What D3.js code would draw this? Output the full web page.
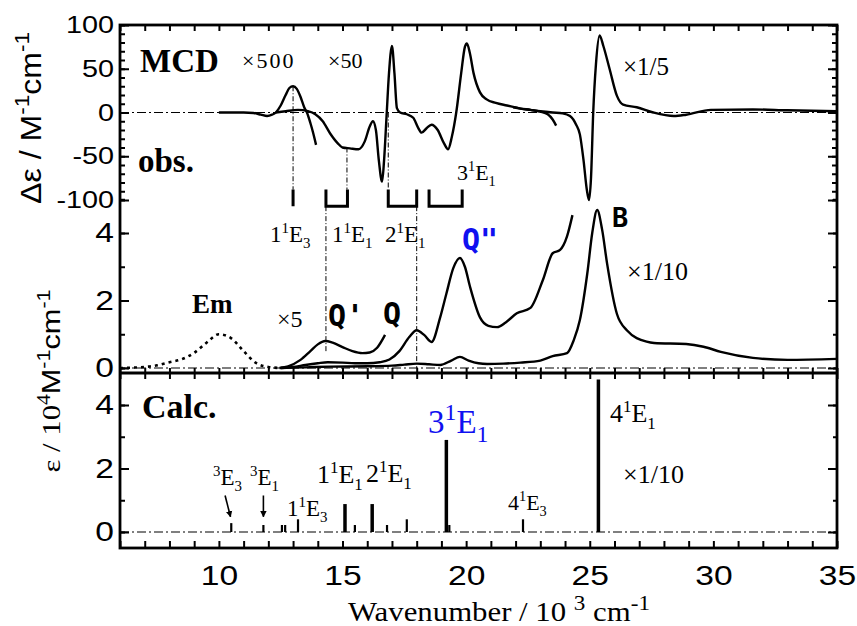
<!DOCTYPE html>
<html>
<head>
<meta charset="utf-8">
<script src="https://cdn.jsdelivr.net/npm/d3@7"></script>
<style>
  body { margin: 0; background: #fff; }
</style>
</head>
<body>
<div id="chart"></div>
<script>
// ---- data (wavenumber in 10^3 cm-1) ----
const xMinorTicks = d3.range(6, 36);
const xLabelTicks = [10, 15, 20, 25, 30, 35];
const mcdMajorTicks = [-100, -50, 0, 50, 100];
const mcdMinorTicks = d3.range(-100, 101, 10);
const epsMajorTicks = [0, 2, 4];
const epsMinorTicks = [0, 1, 2, 3, 4, 5];
const calcMinorTicks = [0, 1, 2, 3, 4];

// MCD, delta-eps / M-1 cm-1 (as plotted, with the x500 / x50 / x1/5 factors applied)
const mcdX500 = [[10, 0], [10.5, 0], [11, 0], [11.4, -0.5], [11.7, -2.5], [11.95, -4], [12.15, -2.5],
  [12.3, 0], [12.5, 8], [12.7, 20], [12.85, 28], [13, 30], [13.15, 27], [13.3, 18], [13.45, 6],
  [13.56, 0], [13.7, -12], [13.8, -22], [13.93, -37]];
const mcdX50 = [[12.3, 0], [12.7, 1.5], [13.2, 3], [13.6, 1.5], [13.9, -2], [14.2, -10], [14.5, -24],
  [14.8, -35], [15.0, -40], [15.3, -41], [15.65, -42], [15.9, -33], [16.1, -16], [16.23, -10],
  [16.35, -20], [16.47, -55], [16.6, -79], [16.68, -55], [16.78, -5], [16.88, 45], [17.0, 76],
  [17.1, 45], [17.2, 5], [17.33, 0], [17.6, -2], [17.86, -6], [18.05, -17], [18.2, -23], [18.4, -18],
  [18.6, -14], [18.85, -20], [19.1, -35], [19.27, -42], [19.42, -28], [19.6, 0], [19.8, 45],
  [19.95, 75], [20.03, 79], [20.15, 68], [20.3, 45], [20.56, 23], [20.83, 15], [21.2, 11],
  [21.65, 8], [22.2, 4.5], [22.6, 3], [23.0, 1], [23.3, -2], [23.5, -8], [23.64, -15]];
const mcdX5th = [[21.9, 6], [22.2, 4.5], [22.6, 3], [23.0, 1.5], [23.5, 0], [23.9, -1], [24.2, -4],
  [24.45, -14], [24.6, -25], [24.75, -55], [24.88, -88], [24.97, -100], [25.05, -75], [25.14, 0],
  [25.25, 55], [25.4, 88], [25.55, 76], [25.8, 50], [26.1, 19], [26.35, 9], [26.9, 6], [27.57, 0],
  [28.4, -4], [28.9, -2.5], [29.9, 3], [31.6, 3.5], [33, 2.5], [35, 1.5]];

// absorption / emission, eps / 10^4 M-1 cm-1
const emission = [[6, 0], [6.5, 0.01], [7, 0.03], [7.5, 0.08], [8, 0.17], [8.5, 0.26], [9, 0.45],
  [9.5, 0.75], [10, 1.0], [10.5, 0.88], [11, 0.5], [11.5, 0.15], [12, 0.03], [12.5, 0]];
const absX5 = [[12.45, 0], [12.8, 0.05], [13.3, 0.24], [13.7, 0.5], [14.0, 0.7], [14.3, 0.8],
  [14.6, 0.75], [15.0, 0.62], [15.4, 0.5], [15.8, 0.44], [16.1, 0.46], [16.4, 0.6], [16.72, 0.98]];
const absX1 = [[12.5, 0], [13.0, 0.03], [13.5, 0.09], [14.0, 0.14], [14.4, 0.17], [15.0, 0.16],
  [15.5, 0.14], [16.0, 0.14], [16.5, 0.17], [16.9, 0.25], [17.3, 0.5], [17.7, 0.92], [18.0, 1.12],
  [18.3, 0.98], [18.6, 0.77], [18.95, 1.5], [19.2, 2.2], [19.48, 2.96], [19.75, 3.26], [19.95, 3.0],
  [20.16, 2.4], [20.56, 1.5], [20.9, 1.25], [21.25, 1.21], [21.6, 1.35], [22.05, 1.62], [22.6, 1.78],
  [23.1, 2.6], [23.5, 3.4], [23.8, 3.5], [24.08, 3.9], [24.3, 4.53]];
const absX10th = [[12.5, 0], [13.5, 0.02], [14.5, 0.04], [16, 0.05], [17, 0.07], [17.5, 0.1],
  [18.0, 0.13], [18.5, 0.11], [18.95, 0.09], [19.4, 0.22], [19.75, 0.33], [20.1, 0.22], [20.5, 0.14],
  [20.85, 0.12], [21.5, 0.13], [22.2, 0.16], [23.0, 0.22], [23.5, 0.35], [24.08, 0.44], [24.35, 0.82],
  [24.6, 1.42], [24.9, 2.8], [25.1, 4.0], [25.3, 4.68], [25.5, 4.1], [25.7, 3.1], [26.1, 1.6],
  [26.5, 1.12], [27.3, 0.78], [27.6, 0.74], [28.9, 0.71], [29.6, 0.63], [30.3, 0.48], [31.6, 0.3],
  [33.0, 0.24], [35.0, 0.27]];

// calculated sticks
const calcPos = [10.5, 11.8, 12.55, 12.68, 13.2, 15.1, 15.5, 16.2, 16.8, 17.6, 19.2, 19.32, 22.3, 25.35];
const calcInt = [0.28, 0.22, 0.22, 0.22, 0.4, 0.88, 0.22, 0.88, 0.22, 0.4, 2.9, 0.22, 0.4, 4.8];

// assignment brackets (start, end) and guide lines
const brackets = [[13.0, 13.0], [14.33, 15.2], [16.85, 18.0], [18.5, 19.84]];
const guidesMcd = [[13.0, 30], [15.18, -40], [16.85, 0]];   // from MCD value down to bracket
const guidesAbs = [[14.33, 0.45], [18.0, 0]];              // from bracket down to absorption value

// ---- layout ----
const width = 857, height = 626;
const frameLeft = 120, frameRight = 837, frameTop = 25, frameMid = 373, frameBottom = 548;
const sans = "'Liberation Sans', Arial, Helvetica, sans-serif";
const serif = "'Liberation Serif', 'Times New Roman', serif";
const mono = "'DejaVu Sans Mono', monospace";
const blue = "#1010f0";

const svg = d3.select("#chart").append("svg")
  .attr("width", width)
  .attr("height", height);

const x = d3.scaleLinear().domain([6, 35]).range([frameLeft, frameRight]);
const yMcd = d3.scaleLinear().domain([-100, 100]).range([200, frameTop]);
const yAbs = d3.scaleLinear().domain([0, 4]).range([368, 233]);
const yCalc = d3.scaleLinear().domain([0, 4]).range([532, 405]);

// zero lines (dash-dot)
[yMcd(0), yAbs(0), yCalc(0)].forEach(y => {
  svg.append("line")
    .attr("x1", frameLeft).attr("x2", frameRight).attr("y1", y).attr("y2", y)
    .attr("stroke", "#000").attr("stroke-width", 1.2)
    .attr("stroke-dasharray", "9,3,2,3");
});

// guide lines
const guideStyle = sel => sel.attr("stroke", "#000").attr("stroke-width", 1)
  .attr("stroke-dasharray", "5,2,1,2");
guidesMcd.forEach(([w, v]) => {
  svg.append("line").attr("x1", x(w)).attr("x2", x(w))
    .attr("y1", yMcd(v)).attr("y2", yMcd(-88)).call(guideStyle);
});
guidesAbs.forEach(([w, v]) => {
  svg.append("line").attr("x1", x(w)).attr("x2", x(w))
    .attr("y1", yMcd(-107)).attr("y2", yAbs(v)).call(guideStyle);
});

// brackets
svg.selectAll("path.bracket")
  .data(brackets)
  .enter().append("path")
  .attr("class", "bracket")
  .attr("d", d => `M${x(d[0])},${yMcd(-88)}V${yMcd(-107)}H${x(d[1])}V${yMcd(-88)}`)
  .attr("fill", "none").attr("stroke", "#000").attr("stroke-width", 3);

// curves
function curve(data, yScale, dash) {
  const line = d3.line()
    .x(d => x(d[0]))
    .y(d => yScale(d[1]))
    .curve(d3.curveMonotoneX);
  svg.append("path")
    .datum(data)
    .attr("d", line)
    .attr("fill", "none")
    .attr("stroke", "#000")
    .attr("stroke-width", dash ? 2.6 : 2.4)
    .attr("stroke-linejoin", "round")
    .attr("stroke-dasharray", dash || null);
}
curve(mcdX500, yMcd);
curve(mcdX50, yMcd);
curve(mcdX5th, yMcd);
curve(emission, yAbs, "3,4");
curve(absX5, yAbs);
curve(absX1, yAbs);
curve(absX10th, yAbs);

// calc sticks
svg.selectAll("line.stick")
  .data(calcPos)
  .enter().append("line")
  .attr("class", "stick")
  .attr("x1", d => x(d)).attr("x2", d => x(d))
  .attr("y1", yCalc(0))
  .attr("y2", (d, i) => yCalc(calcInt[i]))
  .attr("stroke", "#000")
  .attr("stroke-width", (d, i) => calcInt[i] > 0.8 ? 3.5 : 2.2);

// axes
function addAxis(axis, tx, ty, fontSize) {
  const g = svg.append("g")
    .attr("transform", `translate(${tx},${ty})`)
    .call(axis);
  g.select(".domain").remove();
  g.attr("font-size", null).attr("font-family", null);
  g.selectAll(".tick line").attr("stroke", "#000").attr("stroke-width", 2);
  g.selectAll(".tick text")
    .attr("fill", "#000")
    .attr("font-family", sans)
    .attr("font-size", fontSize || 24)
    .attr("transform", "scale(1.2,1)");
  return g;
}
const none = () => "";
const plain = d => String(d);

// top edge, divider, bottom edge
addAxis(d3.axisTop(x).tickValues(xMinorTicks).tickSize(-6).tickFormat(none), 0, frameTop);
addAxis(d3.axisBottom(x).tickValues(xMinorTicks).tickSize(-5).tickFormat(none), 0, frameMid);
addAxis(d3.axisTop(x).tickValues(xMinorTicks).tickSize(-6).tickFormat(none), 0, frameMid);
addAxis(d3.axisBottom(x).tickValues(xMinorTicks).tickSize(-7).tickFormat(none), 0, frameBottom);
addAxis(d3.axisBottom(x).tickValues(xLabelTicks).tickSize(0).tickPadding(17).tickFormat(plain), 0, frameBottom, 28);

// MCD y axis
addAxis(d3.axisLeft(yMcd).tickValues(mcdMinorTicks).tickSize(-5).tickFormat(none), frameLeft, 0);
addAxis(d3.axisLeft(yMcd).tickValues(mcdMajorTicks).tickSize(-9).tickPadding(5).tickFormat(plain), frameLeft, 0, 24);
addAxis(d3.axisRight(yMcd).tickValues(mcdMinorTicks).tickSize(-5).tickFormat(none), frameRight, 0);
addAxis(d3.axisRight(yMcd).tickValues(mcdMajorTicks).tickSize(-9).tickFormat(none), frameRight, 0);

// absorption y axis
addAxis(d3.axisLeft(yAbs).tickValues(epsMinorTicks).tickSize(-5).tickFormat(none), frameLeft, 0);
addAxis(d3.axisLeft(yAbs).tickValues(epsMajorTicks).tickSize(-9).tickPadding(5).tickFormat(plain), frameLeft, 0, 28);
addAxis(d3.axisRight(yAbs).tickValues(epsMinorTicks).tickSize(-4).tickFormat(none), frameRight, 0);
addAxis(d3.axisRight(yAbs).tickValues(epsMajorTicks).tickSize(-9).tickFormat(none), frameRight, 0);

// calc y axis
addAxis(d3.axisLeft(yCalc).tickValues(calcMinorTicks).tickSize(-5).tickFormat(none), frameLeft, 0);
addAxis(d3.axisLeft(yCalc).tickValues(epsMajorTicks).tickSize(-9).tickPadding(5).tickFormat(plain), frameLeft, 0, 28);
addAxis(d3.axisRight(yCalc).tickValues(calcMinorTicks).tickSize(-4).tickFormat(none), frameRight, 0);
addAxis(d3.axisRight(yCalc).tickValues(epsMajorTicks).tickSize(-9).tickFormat(none), frameRight, 0);

// frame
svg.append("rect")
  .attr("x", frameLeft).attr("y", frameTop)
  .attr("width", frameRight - frameLeft).attr("height", frameBottom - frameTop)
  .attr("fill", "none").attr("stroke", "#000").attr("stroke-width", 2.8);
svg.append("line")
  .attr("x1", frameLeft).attr("x2", frameRight).attr("y1", frameMid).attr("y2", frameMid)
  .attr("stroke", "#000").attr("stroke-width", 2.8);

// rich text helper: parts are strings or [text, "sup"|"sub"|"n", family]
function rich(x0, y0, parts, o) {
  const t = svg.append("text")
    .attr("x", x0).attr("y", y0)
    .attr("font-family", o.family || serif)
    .attr("font-size", o.size)
    .attr("font-weight", o.weight || "normal")
    .attr("fill", o.fill || "#000");
  if (o.anchor) t.attr("text-anchor", o.anchor);
  if (o.transform) t.attr("transform", o.transform);
  if (o.len) t.attr("textLength", o.len).attr("lengthAdjust", "spacingAndGlyphs");
  if (o.spacing) t.attr("letter-spacing", o.spacing);
  const small = o.small || 0.65;
  let shift = 0;
  parts.forEach(p => {
    const [s, kind, fam] = typeof p === "string" ? [p, "n"] : p;
    const target = kind === "sup" ? -0.4 : kind === "sub" ? 0.28 : 0;
    const span = t.append("tspan").text(s).attr("dy", (target - shift) * o.size);
    if (kind === "sup" || kind === "sub") span.attr("font-size", o.size * small);
    if (fam) span.attr("font-family", fam);
    shift = target;
  });
  return t;
}

// axis titles
rich(0, 0, ["\u0394\u03b5 / M", ["-1", "sup"], "cm", ["-1", "sup"]],
  { family: sans, size: 30, anchor: "middle", transform: "translate(41,118) rotate(-90)", len: 172, small: 0.7 });
rich(0, 0, [["\u03b5 / 10", "n", serif], ["4", "sup", serif], ["M", "n", sans], ["-1", "sup", sans],
  ["cm", "n", sans], ["-1", "sup", sans]],
  { family: sans, size: 26, anchor: "middle", transform: "translate(60,381) rotate(-90)", len: 183, small: 0.7 });
rich(348, 621, ["Wavenumber / 10 ", ["3", "sup"], [" cm", "n"], ["-1", "sup"]],
  { family: serif, size: 27, len: 302, small: 0.75 });

// panel labels
rich(140, 72, ["MCD"], { size: 33, weight: "bold" });
rich(242, 68, ["\u00d7500"], { size: 22, spacing: 2 });
rich(328, 68, ["\u00d750"], { size: 22 });
rich(138, 172, ["obs."], { size: 33, weight: "bold" });
rich(623, 75, ["\u00d71/5"], { size: 25 });
rich(457, 180, ["3", ["1", "sup"], "E", ["1", "sub"]], { size: 22 });
rich(270, 242, ["1", ["1", "sup"], "E", ["3", "sub"]], { size: 23 });
rich(332, 242, ["1", ["1", "sup"], "E", ["1", "sub"]], { size: 23 });
rich(385, 242, ["2", ["1", "sup"], "E", ["1", "sub"]], { size: 23 });

rich(462, 250, ["Q\""], { family: mono, size: 30, weight: "bold", fill: blue });
rich(612, 227, ["B"], { family: mono, size: 27, weight: "bold" });
rich(627, 280, ["\u00d71/10"], { size: 26 });
rich(192, 313, ["Em"], { size: 27, weight: "bold" });
rich(277, 327, ["\u00d75"], { size: 24 });
rich(328, 326, ["Q'"], { family: mono, size: 30, weight: "bold" });
rich(383, 324, ["Q"], { family: mono, size: 30, weight: "bold" });

rich(142, 418, ["Calc."], { size: 34, weight: "bold" });
rich(213, 485, [["3", "sup"], "E", ["3", "sub"]], { size: 23 });
rich(250, 485, [["3", "sup"], "E", ["1", "sub"]], { size: 23 });
rich(287, 516, ["1", ["1", "sup"], "E", ["3", "sub"]], { size: 23 });
rich(317, 483, ["1", ["1", "sup"], "E", ["1", "sub"]], { size: 26 });
rich(366, 482, ["2", ["1", "sup"], "E", ["1", "sub"]], { size: 26 });
rich(428, 433, ["3", ["1", "sup"], "E", ["1", "sub"]], { size: 33, fill: blue, small: 0.72 });
rich(508, 510, ["4", ["1", "sup"], "E", ["3", "sub"]], { size: 22 });
rich(610, 422, ["4", ["1", "sup"], "E", ["1", "sub"]], { size: 26 });
rich(623, 483, ["\u00d71/10"], { size: 26 });

// arrows to the triplet sticks
svg.append("defs").append("marker")
  .attr("id", "head").attr("viewBox", "0 0 10 10")
  .attr("refX", 9).attr("refY", 5)
  .attr("markerWidth", 4).attr("markerHeight", 5).attr("orient", "auto")
  .append("path").attr("d", "M0,0L10,5L0,10Z").attr("fill", "#000");
[[10.25, 10.47], [11.8, 11.8]].forEach(([a, b]) => {
  svg.append("line")
    .attr("x1", x(a)).attr("y1", yCalc(1.15))
    .attr("x2", x(b)).attr("y2", yCalc(0.48))
    .attr("stroke", "#000").attr("stroke-width", 1.6)
    .attr("marker-end", "url(#head)");
});
</script>
</body>
</html>
